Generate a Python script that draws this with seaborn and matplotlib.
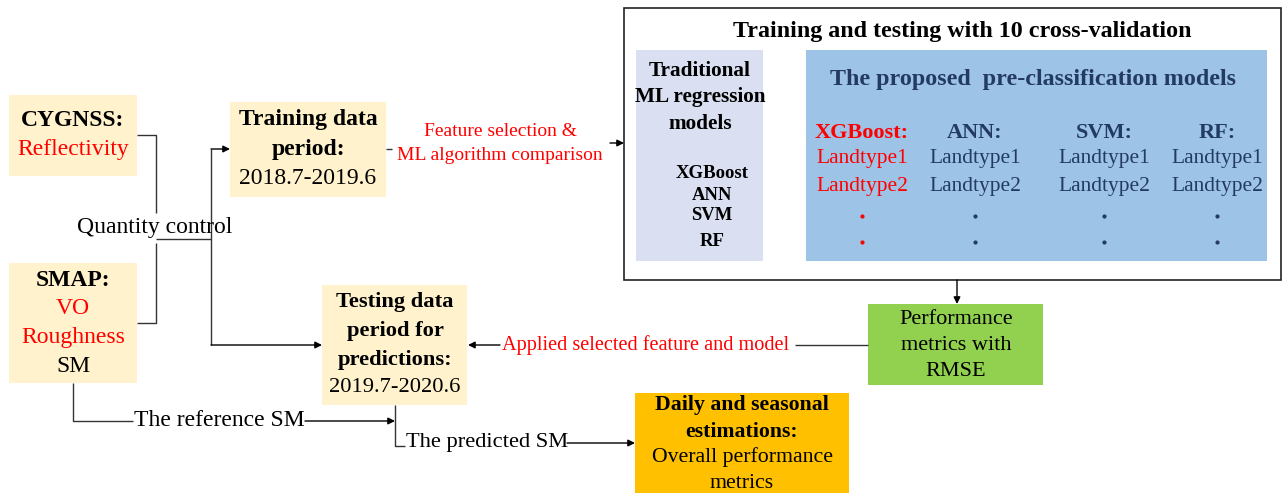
import matplotlib
matplotlib.use("Agg")
import matplotlib.pyplot as plt
from matplotlib.patches import Rectangle, FancyArrowPatch
import seaborn as sns

sns.set_style("white")
plt.rcParams['font.family'] = ['Liberation Serif', 'DejaVu Serif']

# ---- text content ----
cygnss_lines = ["CYGNSS:", "Reflectivity"]
smap_lines = ["SMAP:", "VO", "Roughness", "SM"]
training_lines = ["Training data", "period:", "2018.7-2019.6"]
testing_lines = ["Testing data", "period for", "predictions:", "2019.7-2020.6"]
feature_lines = ["Feature selection &", "ML algorithm comparison"]
big_title = "Training and testing with 10 cross-validation"
trad_title = ["Traditional", "ML regression", "models"]
trad_models = ["XGBoost", "ANN", "SVM", "RF"]
proposed_title = "The proposed  pre-classification models"
proposed_models = ["XGBoost:", "ANN:", "SVM:", "RF:"]
landtypes = ["Landtype1", "Landtype2", ".", "."]
perf_lines = ["Performance", "metrics with", "RMSE"]
applied_label = "Applied selected feature and model"
quantity_label = "Quantity control"
reference_label = "The reference SM"
predicted_label = "The predicted SM"
daily_lines = ["Daily and seasonal", "estimations:", "Overall performance", "metrics"]

W, H = 1287, 493
fig = plt.figure(figsize=(W / 100, H / 100), dpi=100)
ax = fig.add_axes([0, 0, 1, 1])
ax.set_xlim(0, W)
ax.set_ylim(H, 0)
ax.axis("off")

YEL = "#FFF2CC"
LAV = "#DAE0F2"
BLUE = "#9DC3E6"
GREEN = "#92D050"
ORANGE = "#FFC000"
RED = "#FF0000"
NAVY = "#233A63"
LC = "#333333"
FS = 17
FS2 = 14


def box(x0, y0, x1, y1, fc, ec="none", lw=0):
    ax.add_patch(Rectangle((x0, y0), x1 - x0, y1 - y0, facecolor=fc,
                           edgecolor=ec, linewidth=lw, zorder=1))


def txt(x, y, s, size=FS, color="black", bold=False):
    ax.text(x, y, s, ha="center", va="center", fontsize=size, color=color,
            fontweight="bold" if bold else "normal", zorder=3)


def line(xs, ys, color=LC, lw=1.0):
    ax.plot(xs, ys, color=color, lw=lw, zorder=2, solid_capstyle="butt")


def arrow(x0, y0, x1, y1):
    ax.add_patch(FancyArrowPatch((x0, y0), (x1, y1), arrowstyle="-|>",
                                 mutation_scale=10, color="black", lw=1.0,
                                 shrinkA=0, shrinkB=0, zorder=2))


# ---- left input boxes ----
box(9, 95, 137, 176, YEL)
txt(73, 121, cygnss_lines[0], bold=True)
txt(73, 149, cygnss_lines[1], color=RED)

box(9, 263, 137, 383, YEL)
txt(73, 281, smap_lines[0], bold=True)
txt(73, 309, smap_lines[1], color=RED)
txt(73, 337, smap_lines[2], color=RED)
txt(73, 366, smap_lines[3])

# quantity control connectors
line([137, 156, 156], [135, 135, 213])
line([156, 156, 137], [243, 323, 323])
line([156, 211], [239, 239])
line([211, 211], [149, 345])
arrow(211, 149, 230, 149)
arrow(211, 345, 322, 345)
txt(155, 228, quantity_label)

# ---- training box ----
box(230, 102, 386, 197, YEL)
txt(308, 120, training_lines[0], bold=True)
txt(308, 149, training_lines[1], bold=True)
txt(308, 178, training_lines[2])

line([386, 392], [149, 149])
txt(500, 131, feature_lines[0], size=FS2, color=RED)
txt(500, 155, feature_lines[1], size=FS2, color=RED)
arrow(610, 143, 624, 143)

# ---- big training / testing box ----
box(624, 8, 1281, 280, "white", ec="#222222", lw=1.2)
txt(962, 31, big_title, size=17.3, bold=True)

box(636, 50, 763, 261, LAV)
for s, y in zip(trad_title, [71, 97, 124]):
    txt(700, y, s, size=15.3, bold=True)
for s, y in zip(trad_models, [173, 195, 216, 241]):
    txt(712, y, s, size=13.5, bold=True)

box(806, 50, 1267, 261, BLUE)
txt(1033, 79, proposed_title, size=17.3, color=NAVY, bold=True)
col_x = [862, 975, 1104, 1217]
row_y = [159, 186, 216, 242]
for i, (cx, name) in enumerate(zip(col_x, proposed_models)):
    c = RED if i == 0 else NAVY
    txt(cx, 133, name, size=16, color=c, bold=True)
    for s, y in zip(landtypes, row_y):
        if s == ".":
            ax.plot([cx], [y], marker="o", ms=2.0, color=c, zorder=3)
        else:
            txt(cx, y, s, size=15.5, color=c)

# ---- performance box ----
arrow(957, 280, 957, 304)
box(868, 304, 1043, 385, GREEN)
for s, y in zip(perf_lines, [319, 345, 372]):
    txt(956, y, s, size=16)

line([868, 795], [345, 345])
txt(646, 345, applied_label, size=14.6, color=RED)
arrow(500, 345, 468, 345)

# ---- testing box ----
box(322, 285, 467, 405, YEL)
for s, y, b in zip(testing_lines, [302, 331, 360, 388], [True, True, True, False]):
    txt(395, y, s, size=16.2, bold=b)

# reference SM
line([73, 73, 133], [383, 421, 421])
txt(219, 421, reference_label)
arrow(305, 421, 395, 421)

# predicted SM
line([395, 395, 405], [405, 446, 446])
txt(487, 443, predicted_label, size=16.2)
arrow(567, 443, 635, 443)

# ---- daily box ----
box(635, 393, 849, 493, ORANGE)
for s, y, b in zip(daily_lines, [405, 432, 457, 483], [True, True, False, False]):
    txt(742, y, s, size=15.7, bold=b)

fig.savefig("out.png", dpi=100)
